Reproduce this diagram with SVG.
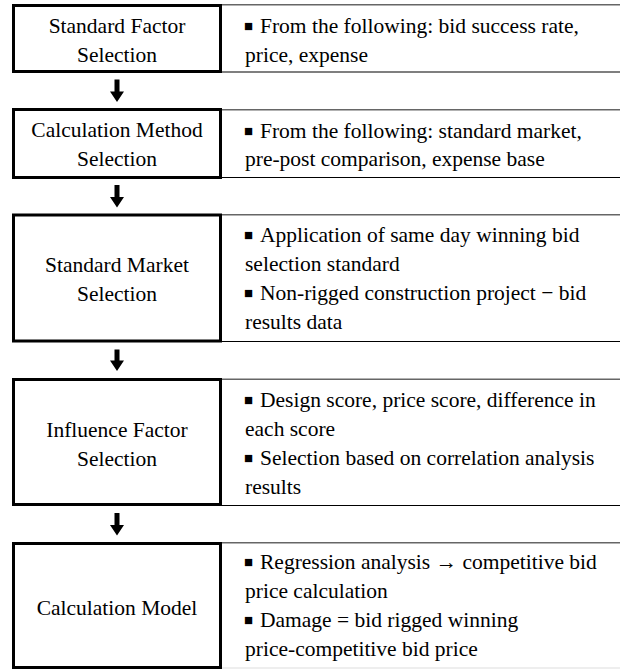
<svg xmlns="http://www.w3.org/2000/svg" width="620" height="669" viewBox="0 0 620 669">
<style>
.box{fill:#fff;stroke:#000;stroke-width:3}
.tl{stroke:#666;stroke-width:1.5}
.bl{stroke:#000;stroke-width:1.2}
text{font-family:"Liberation Serif","Times New Roman",serif;font-size:21.5px;fill:#000}
.c{text-anchor:middle}
.b{font-family:"Liberation Serif","DejaVu Sans",serif;font-size:15px}
.arr{fill:#000}
</style>
<rect x="0" y="0" width="620" height="669" fill="#fff"/>
<g id="connectors">
<path class="arr" d="M114.5 79.5h5v12h4.5l-7 10.5l-7-10.5h4.5z"/>
<path class="arr" d="M114.5 185h5v12h4.5l-7 10.5l-7-10.5h4.5z"/>
<path class="arr" d="M114.5 349.5h5v11h4.5l-7 10.5l-7-10.5h4.5z"/>
<path class="arr" d="M114.5 513h5v12h4.5l-7 10.5l-7-10.5h4.5z"/>
</g>
<g id="node1">
<line class="tl" x1="222" y1="4.75" x2="620" y2="4.75"/>
<line class="bl" x1="222" y1="72" x2="620" y2="72"/>
<rect class="box" x="13.5" y="5.5" width="207" height="66"/>
<text class="c" x="117" y="33">Standard Factor</text>
<text class="c" x="117" y="62">Selection</text>
<text class="b" x="244" y="31">■</text>
<text x="260" y="33">From the following: bid success rate,</text>
<text x="245" y="62">price, expense</text>
</g>
<g id="node2">
<line class="tl" x1="222" y1="109.75" x2="620" y2="109.75"/>
<line class="bl" x1="222" y1="177.5" x2="620" y2="177.5"/>
<rect class="box" x="13.5" y="109.5" width="207" height="68"/>
<text class="c" x="117" y="137">Calculation Method</text>
<text class="c" x="117" y="166">Selection</text>
<text class="b" x="244" y="136">■</text>
<text x="260" y="138">From the following: standard market,</text>
<text x="245" y="166">pre-post comparison, expense base</text>
</g>
<g id="node3">
<line class="tl" x1="222" y1="214.75" x2="620" y2="214.75"/>
<line class="bl" x1="222" y1="341.5" x2="620" y2="341.5"/>
<rect class="box" x="13.5" y="215" width="207" height="126"/>
<text class="c" x="117" y="272">Standard Market</text>
<text class="c" x="117" y="301">Selection</text>
<text class="b" x="244" y="240">■</text>
<text x="260" y="242">Application of same day winning bid</text>
<text x="245" y="271">selection standard</text>
<text class="b" x="244" y="298">■</text>
<text x="260" y="300">Non-rigged construction project − bid</text>
<text x="245" y="329">results data</text>
</g>
<g id="node4">
<line class="tl" x1="222" y1="379.25" x2="620" y2="379.25"/>
<line class="bl" x1="222" y1="505.5" x2="620" y2="505.5"/>
<rect class="box" x="13.5" y="379.5" width="207" height="125"/>
<text class="c" x="117" y="437">Influence Factor</text>
<text class="c" x="117" y="466">Selection</text>
<text class="b" x="244" y="405">■</text>
<text x="260" y="407">Design score, price score, difference in</text>
<text x="245" y="436">each score</text>
<text class="b" x="244" y="463">■</text>
<text x="260" y="465">Selection based on correlation analysis</text>
<text x="245" y="494">results</text>
</g>
<g id="node5">
<line class="tl" x1="222" y1="542.75" x2="620" y2="542.75"/>
<line x1="222" y1="668" x2="620" y2="668" stroke="#ddd" stroke-width="1"/>
<rect class="box" x="13.5" y="543.5" width="207" height="124"/>
<text class="c" x="117" y="615">Calculation Model</text>
<text class="b" x="244" y="567">■</text>
<text x="260" y="569">Regression analysis → competitive bid</text>
<text x="245" y="598">price calculation</text>
<text class="b" x="244" y="625">■</text>
<text x="260" y="627">Damage = bid rigged winning</text>
<text x="245" y="656">price-competitive bid price</text>
</g>
</svg>
